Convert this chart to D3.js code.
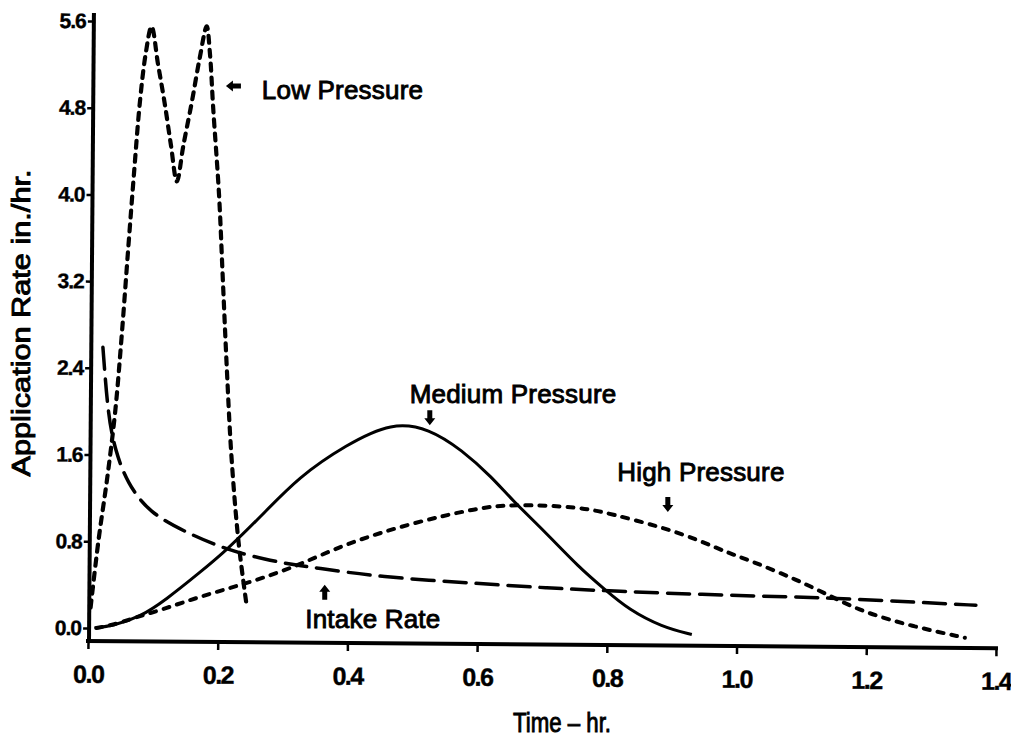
<!DOCTYPE html>
<html>
<head>
<meta charset="utf-8">
<script src="https://cdn.jsdelivr.net/npm/d3@7"></script>
<style>
  body { margin: 0; background: #fff; }
  text { font-family: "Liberation Sans", Arial, sans-serif; fill: #000; }
</style>
</head>
<body>
<div class="vis-chart"></div>
<script>
// tick labels
var timeTicks = [0.0, 0.2, 0.4, 0.6, 0.8, 1.0, 1.2, 1.4];
var rateTicks = [0.0, 0.8, 1.6, 2.4, 3.2, 4.0, 4.8, 5.6];

// Low Pressure (in./hr. vs hr.)
var lowTime = [0.004, 0.016, 0.03, 0.042, 0.052, 0.062, 0.071, 0.08, 0.089, 0.098, 0.108, 0.118, 0.128, 0.137, 0.147, 0.16, 0.172, 0.183, 0.188, 0.193, 0.202, 0.208, 0.214, 0.221, 0.232, 0.245];
var lowRate = [0.19, 0.8, 1.4, 2.0, 2.7, 3.5, 4.2, 4.85, 5.3, 5.55, 5.2, 4.85, 4.45, 4.12, 4.45, 4.85, 5.25, 5.55, 5.3, 4.8, 4.0, 3.2, 2.4, 1.6, 0.8, 0.19];

// Intake Rate
var intakeTime = [0.023, 0.031, 0.042, 0.06, 0.095, 0.152, 0.214, 0.275, 0.32, 0.346, 0.449, 0.603, 0.706, 0.808, 0.988, 1.146, 1.3, 1.369];
var intakeRate = [2.59, 1.95, 1.64, 1.34, 1.06, 0.88, 0.72, 0.63, 0.58, 0.56, 0.47, 0.41, 0.37, 0.34, 0.3, 0.28, 0.23, 0.21];

// Medium Pressure
var mediumTime = [0.01, 0.038, 0.08, 0.12, 0.172, 0.214, 0.265, 0.326, 0.398, 0.469, 0.526, 0.577, 0.623, 0.654, 0.706, 0.757, 0.798, 0.834, 0.885, 0.931];
var mediumRate = [0.0, 0.02, 0.1, 0.26, 0.51, 0.72, 1.02, 1.4, 1.69, 1.9, 1.84, 1.64, 1.39, 1.18, 0.88, 0.56, 0.35, 0.17, 0.01, -0.06];

// High Pressure
var highTime = [0.013, 0.04, 0.069, 0.12, 0.172, 0.25, 0.326, 0.398, 0.5, 0.603, 0.654, 0.757, 0.808, 0.885, 0.942, 0.988, 1.018, 1.095, 1.146, 1.198, 1.275, 1.352];
var highRate = [0.0, 0.03, 0.09, 0.18, 0.29, 0.42, 0.58, 0.78, 0.97, 1.11, 1.14, 1.12, 1.05, 0.93, 0.81, 0.69, 0.63, 0.44, 0.29, 0.14, 0.01, -0.09];

var width = 1011, height = 745;

var svg = d3.select('.vis-chart').append('svg')
    .attr('width', width)
    .attr('height', height)
    .style('display', 'block');

svg.append('rect').attr('width', width).attr('height', height).attr('fill', '#fff');

var x = d3.scaleLinear().domain([0, 1.4]).range([88, 996]);
var y = d3.scaleLinear().domain([0, 5.6]).range([628, 21]);

var tilt = 0.45; // the scanned frame is slightly rotated

// y axis
var yAxis = svg.append('g')
    .attr('transform', 'rotate(' + tilt + ',89,641) translate(89,0)')
    .call(d3.axisLeft(y).tickValues(rateTicks).tickFormat(d3.format('.1f')).tickSize(6).tickSizeOuter(0).tickPadding(2));
yAxis.select('.domain').remove();
yAxis.append('line')
    .attr('x1', 0).attr('x2', 0)
    .attr('y1', y(5.6) - 8).attr('y2', 643)
    .attr('stroke', '#000').attr('stroke-width', 4);
yAxis.selectAll('.tick line').attr('stroke', '#000').attr('stroke-width', 2.5);
yAxis.selectAll('.tick text')
    .attr('font-size', 21).attr('font-weight', 'bold')
    .attr('letter-spacing', -1)
    .attr('stroke', '#000').attr('stroke-width', 0.4)
    .attr('fill', '#000');

// x axis
var xAxis = svg.append('g')
    .attr('transform', 'rotate(' + tilt + ',88,641) translate(0,641)')
    .call(d3.axisBottom(x).tickValues(timeTicks).tickFormat(d3.format('.1f')).tickSize(8).tickSizeOuter(0).tickPadding(16));
xAxis.select('.domain').remove();
xAxis.append('line')
    .attr('x1', x(0) - 2).attr('x2', x(1.4) + 2)
    .attr('y1', 0).attr('y2', 0)
    .attr('stroke', '#000').attr('stroke-width', 4);
xAxis.selectAll('.tick line').attr('stroke', '#000').attr('stroke-width', 2.5);
xAxis.selectAll('.tick text')
    .attr('font-size', 25).attr('font-weight', 'bold')
    .attr('letter-spacing', -1.5)
    .attr('stroke', '#000').attr('stroke-width', 0.4)
    .attr('fill', '#000');

// axis titles
svg.append('text')
    .attr('transform', 'translate(30,323) rotate(-90)')
    .attr('text-anchor', 'middle')
    .attr('font-size', 25)
    .attr('stroke', '#000').attr('stroke-width', 0.9)
    .attr('textLength', 307).attr('lengthAdjust', 'spacingAndGlyphs')
    .text('Application Rate in./hr.');

svg.append('text')
    .attr('x', 562).attr('y', 732)
    .attr('text-anchor', 'middle')
    .attr('font-size', 27)
    .attr('stroke', '#000').attr('stroke-width', 0.9)
    .attr('textLength', 98).attr('lengthAdjust', 'spacingAndGlyphs')
    .text('Time – hr.');

// curves - the smooth ones get a b-spline, the spiky one goes through its points
var smooth = d3.line()
    .x(function(d) { return x(d[0]); })
    .y(function(d) { return y(d[1]); })
    .curve(d3.curveBasis);

var spiky = d3.line()
    .x(function(d) { return x(d[0]); })
    .y(function(d) { return y(d[1]); })
    .curve(d3.curveCatmullRom.alpha(0.5));

var series = [
    {name: 'Medium Pressure', data: d3.zip(mediumTime, mediumRate), dash: null, w: 3, gen: smooth},
    {name: 'Intake Rate', data: d3.zip(intakeTime, intakeRate), dash: '22,10', w: 3.5, gen: smooth},
    {name: 'High Pressure', data: d3.zip(highTime, highRate), dash: '6,8', w: 4, gen: smooth},
    {name: 'Low Pressure', data: d3.zip(lowTime, lowRate), dash: '7,7', w: 4.2, gen: spiky}
];

svg.selectAll('path.series')
    .data(series)
    .enter()
    .append('path')
    .attr('class', 'series')
    .attr('d', function(d) { return d.gen(d.data); })
    .attr('fill', 'none')
    .attr('stroke', '#000')
    .attr('stroke-width', function(d) { return d.w; })
    .attr('stroke-linecap', function(d) { return d.dash ? 'round' : 'butt'; })
    .attr('stroke-dasharray', function(d) { return d.dash; });

// labels with little pointer arrows
var labels = [
    {text: 'Low Pressure', tx: 0.268, ty: 4.88, ax: 0.225, ay: 5.0, dir: 'left'},
    {text: 'Medium Pressure', tx: 0.496, ty: 2.08, ax: 0.527, ay: 1.87, dir: 'down'},
    {text: 'High Pressure', tx: 0.816, ty: 1.36, ax: 0.894, ay: 1.07, dir: 'down'},
    {text: 'Intake Rate', tx: 0.335, ty: 0.0, ax: 0.365, ay: 0.4, dir: 'up'}
];

svg.selectAll('text.label')
    .data(labels)
    .enter()
    .append('text')
    .attr('class', 'label')
    .attr('x', function(d) { return x(d.tx); })
    .attr('y', function(d) { return y(d.ty); })
    .attr('font-size', 26)
    .attr('letter-spacing', 0.2)
    .attr('stroke', '#000').attr('stroke-width', 0.9)
    .text(function(d) { return d.text; });

// arrow drawn pointing up with tip at 0,0, then rotated
var arrowShape = 'M0,0 L5.5,7 L2.5,7 L2.5,15 L-2.5,15 L-2.5,7 L-5.5,7 Z';
var angle = {up: 0, down: 180, left: -90};

svg.selectAll('path.arrow')
    .data(labels)
    .enter()
    .append('path')
    .attr('class', 'arrow')
    .attr('d', arrowShape)
    .attr('transform', function(d) {
        var px = x(d.ax), py = y(d.ay);
        if (d.dir === 'left') px -= 8;
        return 'translate(' + px + ',' + py + ') rotate(' + angle[d.dir] + ')';
    })
    .attr('fill', '#000');
</script>
</body>
</html>
